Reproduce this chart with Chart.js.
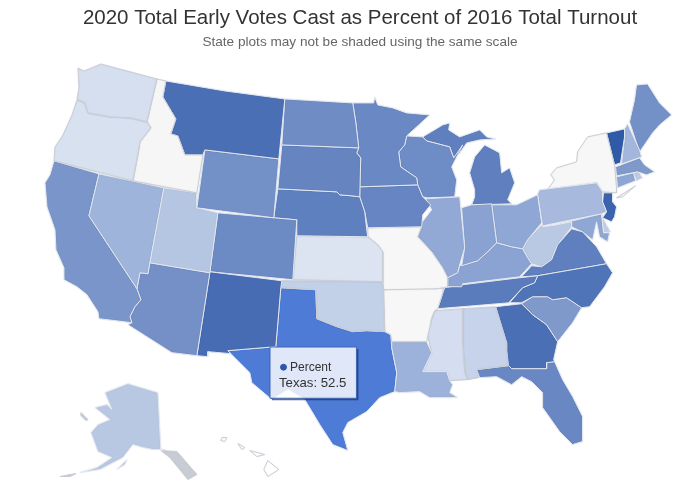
<!DOCTYPE html>
<html lang="en">
<head>
  <meta charset="UTF-8">
  <title>2020 Early Votes</title>
  <script src="https://cdn.jsdelivr.net/npm/chart.js"></script>
  <style>
    body { margin: 0; background: #fff; }
    canvas { display: block; }
  </style>
</head>
<body>
  <canvas id="map" width="680" height="494"></canvas>

  <script>
    const titleText = '2020 Total Early Votes Cast as Percent of 2016 Total Turnout';
    const subtitleText = 'State plots may not be shaded using the same scale';
    const seriesName = 'Percent';
    const tooltipState = 'Texas';
    const tooltipValue = 52.5;

    // state outlines
    const WA = [[78,68],[84,71],[101,64],[157,79],[147,122],[130,118],[110,117],[88,113],[85,103],[77,99],[79,88]];
    const PS = [[92,89],[97,80],[99,68],[101,69],[99,80],[94,89]];
    const OR = [[77,100],[85,103],[88,113],[110,117],[130,118],[147,122],[151,128],[140,142],[139,149],[133,181],[54,161],[55,147],[63,135],[72,115]];
    const ID = [[157,79],[166,81],[163,97],[176,119],[171,134],[178,136],[185,155],[203,155],[197,193],[133,181],[139,149],[140,142],[151,128],[147,122]];
    const MT = [[166,81],[225,91],[285,99],[279,159],[205,150],[203,155],[185,155],[178,136],[171,134],[176,119],[163,97]];
    const WY = [[205,150],[279,159],[274,218],[197,208]];
    const UT = [[164,188],[197,193],[197,208],[218,213],[210,273],[150,263]];
    const NV = [[99,174],[164,188],[150,263],[148,274],[140,273],[137,289],[89,216]];
    const CA = [[54,161],[99,174],[89,216],[137,289],[141,300],[135,307],[130,317],[132,323],[99,319],[98,312],[87,295],[77,287],[64,280],[64,268],[56,250],[55,230],[47,207],[45,183],[50,175]];
    const AZ = [[150,263],[210,273],[197,356],[172,353],[128,325],[132,323],[130,317],[135,307],[141,300],[137,289],[140,273],[148,274]];
    const NM = [[210,272],[282,281],[281,288],[276,347],[228,351],[231,354],[208,352],[208,357],[197,356]];
    const CO = [[218,213],[297,220],[293,280],[210,272]];
    const ND = [[285,99],[353,103],[356,122],[359,148],[282,145]];
    const SD = [[282,145],[359,148],[357,153],[361,158],[360,197],[352,196],[340,195],[337,192],[278,189]];
    const NE = [[278,189],[337,192],[340,195],[352,196],[360,197],[365,212],[367,230],[368,237],[297,236],[297,220],[274,218]];
    const KS = [[297,236],[368,237],[378,245],[383,252],[383,282],[293,280]];
    const OK = [[282,281],[383,282],[385,332],[367,331],[353,332],[337,327],[317,319],[316,290],[281,288]];
    const TX = [[281,288],[316,290],[317,319],[337,327],[353,332],[367,331],[385,332],[391,335],[392,348],[397,373],[395,392],[380,398],[367,412],[348,423],[343,433],[348,451],[333,445],[320,425],[305,400],[288,390],[272,400],[252,383],[250,373],[232,355],[228,351],[276,347]];
    const MN = [[353,103],[374,103],[375,97],[378,105],[393,108],[407,113],[430,115],[407,136],[405,145],[399,152],[401,167],[417,178],[418,185],[360,187],[361,158],[357,153],[359,148],[356,122]];
    const IA = [[360,187],[418,185],[423,197],[431,205],[423,215],[422,227],[368,228],[365,212],[360,197]];
    const MO = [[368,228],[422,227],[418,237],[432,252],[443,268],[448,278],[448,287],[444,288],[437,289],[384,290],[383,282],[383,252],[378,245],[368,237]];
    const AR = [[384,290],[420,288],[437,289],[444,288],[442,297],[438,309],[435,311],[432,318],[427,342],[392,342],[391,335],[385,332]];
    const LA = [[392,342],[427,342],[432,353],[423,372],[447,372],[450,381],[453,385],[450,393],[458,398],[440,398],[430,398],[420,392],[400,393],[395,392],[397,373],[392,348]];
    const MS = [[435,311],[463,309],[463,343],[465,373],[468,380],[450,381],[447,372],[423,372],[432,353],[427,332],[432,320]];
    const AL = [[463,309],[496,307],[507,343],[507,350],[509,366],[477,370],[479,378],[468,380],[465,373],[463,343]];
    const WI = [[407,136],[423,137],[427,141],[450,147],[454,158],[463,145],[452,167],[457,180],[455,197],[428,198],[423,197],[418,185],[417,178],[401,167],[399,152],[405,145]];
    const IL = [[426,199],[460,197],[465,248],[460,265],[458,273],[448,278],[443,268],[432,252],[418,237],[422,223],[432,210]];
    const IN = [[462,208],[472,205],[492,204],[497,243],[488,252],[478,261],[462,266],[465,248]];
    const OH = [[492,205],[507,205],[517,205],[538,195],[542,223],[528,240],[523,249],[512,247],[497,243]];
    const MIL = [[485,145],[500,153],[502,173],[510,168],[515,183],[508,200],[512,204],[472,205],[475,197],[475,190],[470,173],[475,157]];
    const MIU = [[423,137],[443,125],[450,123],[449,130],[460,137],[480,130],[487,137],[496,139],[480,140],[467,143],[460,153],[454,158],[450,147],[427,141]];
    const KY = [[460,266],[478,261],[488,252],[497,243],[512,247],[523,249],[528,258],[532,264],[520,277],[463,284],[462,287],[448,287],[448,278],[458,273]];
    const TN = [[445,288],[463,285],[520,278],[538,276],[535,283],[523,288],[510,302],[510,303],[438,309],[442,297]];
    const NC = [[538,276],[607,264],[613,273],[605,287],[590,307],[582,308],[567,298],[553,300],[548,297],[533,297],[522,303],[510,303],[523,288],[535,283]];
    const SC = [[522,304],[533,297],[548,297],[553,300],[567,298],[582,308],[573,323],[558,342],[547,325],[533,315]];
    const GA = [[496,307],[522,304],[533,315],[547,325],[558,342],[554,360],[555,362],[547,363],[547,369],[512,369],[508,365],[507,350],[507,343]];
    const FL = [[477,370],[509,366],[512,369],[547,369],[547,363],[555,362],[563,380],[573,397],[583,417],[583,442],[573,445],[560,432],[548,415],[543,408],[543,393],[532,382],[522,377],[512,385],[497,377],[480,378]];
    const VA = [[522,277],[532,266],[542,267],[552,260],[558,245],[572,229],[583,232],[597,247],[607,264],[538,276]];
    const WV = [[523,249],[528,240],[542,225],[543,227],[557,225],[572,222],[572,227],[558,245],[552,260],[542,267],[532,264],[528,258]];
    const PA = [[538,194],[540,190],[597,183],[603,192],[603,202],[607,212],[602,214],[543,226]];
    const NY = [[547,191],[555,180],[551,175],[557,168],[577,162],[578,152],[588,137],[607,133],[615,165],[617,188],[617,193],[603,192],[597,183]];
    const LI = [[617,198],[636,186],[623,197]];
    const VT = [[607,133],[625,129],[625,137],[621,163],[615,165]];
    const NH = [[625,129],[628,124],[640,150],[642,157],[622,164],[625,137]];
    const ME = [[637,85],[648,84],[660,103],[672,115],[660,125],[653,133],[640,152],[630,122],[635,100]];
    const MA = [[616,167],[640,158],[645,165],[655,172],[647,175],[638,172],[617,176]];
    const CT = [[617,177],[634,173],[636,181],[618,188]];
    const RI = [[634,173],[639,172],[643,178],[637,181]];
    const NJ = [[604,193],[613,193],[613,202],[617,207],[615,217],[612,222],[603,218],[607,212],[603,202]];
    const DE = [[602,214],[603,218],[611,232],[604,233]];
    const MD = [[557,225],[602,214],[604,233],[610,233],[608,242],[600,237],[597,222],[593,240],[583,232],[572,227],[572,222]];
    const AK = [[105,393],[128,384],[158,393],[161,451],[165,450],[153,450],[143,448],[133,445],[123,458],[100,470],[80,473],[97,468],[112,458],[98,452],[91,433],[98,425],[110,420],[95,408],[107,405],[112,410]];
    const AKSE = [[161,451],[177,452],[197,475],[188,480],[170,458]];
    const AKKO = [[118,469],[127,460],[125,465],[117,470]];
    const AKAL = [[60,477],[76,474],[70,477]];
    const AKSL = [[81,413],[88,420],[86,421],[81,416]];
    const HI1 = [[268,461],[279,470],[268,477],[264,470]];
    const HI2 = [[250,451],[265,455],[257,457]];
    const HI3 = [[238,444],[245,448],[242,450]];
    const HI4 = [[222,438],[227,438],[225,442],[221,441]];

    const outlines = [WA, OR, PS, ID, MT, WY, UT, NV, CA, AZ, NM, CO, ND, SD, NE, KS, OK, MN, IA, MO, AR, LA, MS, AL, WI, IL, IN, OH, MIL, MIU, KY, TN, NC, SC, GA, FL, VA, WV, PA, NY, LI, VT, NH, ME, MA, CT, RI, NJ, DE, MD, AK, AKSE, AKKO, AKAL, AKSL, HI1, HI2, HI3, HI4, TX];
    const names = ['Washington', 'Oregon', 'Puget Sound', 'Idaho', 'Montana', 'Wyoming', 'Utah', 'Nevada', 'California', 'Arizona', 'New Mexico', 'Colorado', 'North Dakota', 'South Dakota', 'Nebraska', 'Kansas', 'Oklahoma', 'Minnesota', 'Iowa', 'Missouri', 'Arkansas', 'Louisiana', 'Mississippi', 'Alabama', 'Wisconsin', 'Illinois', 'Indiana', 'Ohio', 'Michigan', 'Michigan', 'Kentucky', 'Tennessee', 'North Carolina', 'South Carolina', 'Georgia', 'Florida', 'Virginia', 'West Virginia', 'Pennsylvania', 'New York', 'New York', 'Vermont', 'New Hampshire', 'Maine', 'Massachusetts', 'Connecticut', 'Rhode Island', 'New Jersey', 'Delaware', 'Maryland', 'Alaska', 'Alaska', 'Alaska', 'Alaska', 'Alaska', 'Hawaii', 'Hawaii', 'Hawaii', 'Hawaii', 'Texas'];
    const fills = ['#d5dff0', '#d8e1f0', '#ffffff', '#f6f6f6', '#4a6fb5', '#7390c7', '#b5c6e2', '#9fb4da', '#7a95c9', '#7490c6', '#476cb3', '#6c8ac4', '#6f8cc5', '#6584c0', '#5f80bf', '#dce4f1', '#c2d0e8', '#6a88c3', '#6785c2', '#f7f7f7', '#f7f7f7', '#9db2da', '#d4def0', '#c6d3ea', '#6e8cc5', '#93a9d5', '#8aa2d1', '#8fa7d4', '#5f7fbe', '#5f7fbe', '#8ba3d2', '#5a7bbc', '#4f74b7', '#7f99cb', '#4a6fb5', '#6988c3', '#5f7fbe', '#b9c9e4', '#a7bade', '#f7f7f7', '#f7f7f7', '#2f5aa8', '#a3b7dc', '#7390c7', '#7f99cb', '#8ea6d3', '#bccbe5', '#3b63ae', '#c0cee7', '#8fa7d4', '#b8c8e3', '#c8ccd4', '#b8c8e3', '#c8ccd4', '#c8ccd4', '#ffffff', '#ffffff', '#ffffff', '#ffffff', '#4d7bd6'];

    // pale states get a grey edge, the blue ones a near-white one
    function edgeFor(fill) {
      return parseInt(fill.slice(1, 3), 16) > 0xc0 ? '#c9cdd4' : '#e3e7f0';
    }

    const datasets = outlines.map((pts, i) => {
      const closed = pts.concat([pts[0]]);
      return {
        label: names[i],
        data: closed.map(p => ({ x: p[0], y: p[1] })),
        showLine: true,
        fill: 'shape',
        tension: 0,
        pointRadius: 0,
        pointHitRadius: 0,
        backgroundColor: fills[i],
        borderColor: edgeFor(fills[i]),
        borderWidth: 1
      };
    });

    const shadowPlugin = {
      id: 'shadow',
      beforeDatasetsDraw(chart) {
        chart.ctx.save();
        chart.ctx.shadowColor = 'rgba(0,0,0,0.06)';
        chart.ctx.shadowBlur = 2;
      },
      afterDatasetsDraw(chart) {
        chart.ctx.restore();
      },
      // dark edge along the right and bottom of the tooltip box
      beforeTooltipDraw(chart, args) {
        const t = args.tooltip;
        const c = chart.ctx;
        c.save();
        c.strokeStyle = 'rgba(25,50,110,0.7)';
        c.lineWidth = 2;
        c.beginPath();
        c.moveTo(t.x + t.width + 1, t.y + 2);
        c.lineTo(t.x + t.width + 1, t.y + t.height + 1);
        c.lineTo(t.x + 2, t.y + t.height + 1);
        c.stroke();
        c.restore();
      }
    };

    Chart.Tooltip.positioners.fixedBox = function () {
      return { x: 270, y: 347 };
    };

    const chart = new Chart(document.getElementById('map'), {
      type: 'scatter',
      data: { datasets: datasets },
      plugins: [shadowPlugin],
      options: {
        responsive: false,
        animation: false,
        layout: { padding: { left: 40 } },
        events: [],
        scales: {
          x: { type: 'linear', display: false, min: 40, max: 680 },
          y: { type: 'linear', display: false, min: 60, max: 494, reverse: true }
        },
        plugins: {
          legend: { display: false },
          title: {
            display: true,
            text: titleText,
            color: '#333333',
            font: { family: 'Liberation Sans', size: 20.5, weight: 'normal', lineHeight: '24px' },
            padding: { top: 6, bottom: 4 }
          },
          subtitle: {
            display: true,
            text: subtitleText,
            color: '#666666',
            font: { family: 'Liberation Sans', size: 13.6, weight: 'normal', lineHeight: '16px' },
            padding: { top: 0, bottom: 10 }
          },
          tooltip: {
            enabled: true,
            animation: false,
            position: 'fixedBox',
            xAlign: 'left',
            yAlign: 'top',
            caretSize: 0,
            caretPadding: 0,
            cornerRadius: 0,
            backgroundColor: 'rgba(255,255,255,0.82)',
            borderColor: '#3f66b0',
            borderWidth: 1,
            titleMarginBottom: 0,
            titleSpacing: 0,
            padding: { left: 9, right: 10, top: 13, bottom: 7 },
            usePointStyle: true,
            boxWidth: 9,
            boxHeight: 6,
            bodyColor: '#333333',
            footerColor: '#333333',
            bodyFont: { family: 'Liberation Sans', size: 12, weight: 'normal' },
            footerFont: { family: 'Liberation Sans', size: 13.2, weight: 'normal' },
            footerMarginTop: 1,
            callbacks: {
              title: () => '',
              label: () => seriesName,
              labelPointStyle: () => ({ pointStyle: 'circle', rotation: 0 }),
              labelColor: () => ({ backgroundColor: '#2f55a8', borderColor: '#2f55a8', borderWidth: 0 }),
              footer: () => tooltipState + ': ' + tooltipValue
            }
          }
        }
      }
    });

    chart.tooltip.setActiveElements([{ datasetIndex: names.indexOf(tooltipState), index: 0 }], { x: 270, y: 347 });
    chart.update();
  </script>
</body>
</html>
